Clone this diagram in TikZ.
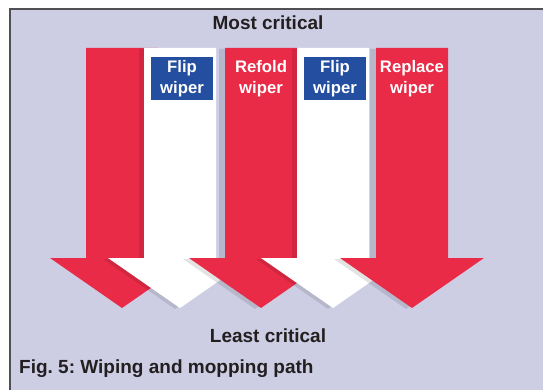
\documentclass[tikz,border=0pt]{standalone}
\usepackage{fontspec}
\setmainfont{Liberation Sans}
\frenchspacing
\definecolor{bglav}{RGB}{205,206,228}
\definecolor{critred}{RGB}{234,43,71}
\definecolor{boxblue}{RGB}{36,78,160}
\definecolor{framegray}{RGB}{80,80,84}
\definecolor{txtdark}{RGB}{35,31,32}
\newcommand\ArrowShape{(-36,48) -- (36,48) -- (36,258) -- (72,258) -- (0,308) -- (-72,258) -- (-36,258) -- cycle}
\tikzset{
  redarrow/.style={fill=critred},
  whitearrow/.style={fill=white},
  arrowshadow/.style={fill=black, fill opacity=0.11},
  bluebox/.style={fill=boxblue, draw=none},
  boxtext/.style={text=white, font=\fontsize{16.7}{21}\selectfont\bfseries, align=center, inner sep=0pt},
  heading/.style={text=txtdark, font=\fontsize{19}{22}\selectfont\bfseries, inner sep=0pt},
}
\begin{document}
\begin{tikzpicture}[x=1pt, y=-1pt]
\useasboundingbox (0,0) rectangle (543,390);
% background panel
\fill[bglav] (9,8) rectangle (543,390);
\draw[framegray, line width=2pt] (10,390) -- (10,9) -- (543,9);
% arrow 1 (red)
\begin{scope}[xshift=122pt]
  \fill[redarrow] \ArrowShape;
\end{scope}
% arrow 2 (white)
\begin{scope}[xshift=175pt, yshift=-1pt]
  \fill[arrowshadow] \ArrowShape;
\end{scope}
\begin{scope}[xshift=180pt]
  \fill[whitearrow] \ArrowShape;
\end{scope}
% arrow 3 (red)
\begin{scope}[xshift=255pt, yshift=-1pt]
  \fill[arrowshadow] \ArrowShape;
\end{scope}
\begin{scope}[xshift=261pt]
  \fill[redarrow] \ArrowShape;
\end{scope}
% arrow 4 (white)
\begin{scope}[xshift=328pt, yshift=-1pt]
  \fill[arrowshadow] \ArrowShape;
\end{scope}
\begin{scope}[xshift=333pt]
  \fill[whitearrow] \ArrowShape;
\end{scope}
% arrow 5 (red)
\begin{scope}[xshift=406pt, yshift=-1pt]
  \fill[arrowshadow] \ArrowShape;
\end{scope}
\begin{scope}[xshift=412pt]
  \fill[redarrow] \ArrowShape;
\end{scope}
% blue boxes
\fill[bluebox] (151,57) rectangle (213,100);
\fill[bluebox] (304,57) rectangle (366,100);
% labels
\node[boxtext] (flip1) at (182,78.5) {Flip\\wiper};
\node[boxtext] (refold) at (261,78.5) {Refold\\wiper};
\node[boxtext] (flip2) at (335,78.5) {Flip\\wiper};
\node[boxtext] (replace) at (412,78.5) {Replace\\wiper};
\node[heading] (most) at (268,23) {Most critical};
\node[heading] (least) at (268,336) {Least critical};
\node[heading, anchor=west] (caption) at (19,369) {Fig. 5: Wiping and mopping path};
\end{tikzpicture}
\end{document}
